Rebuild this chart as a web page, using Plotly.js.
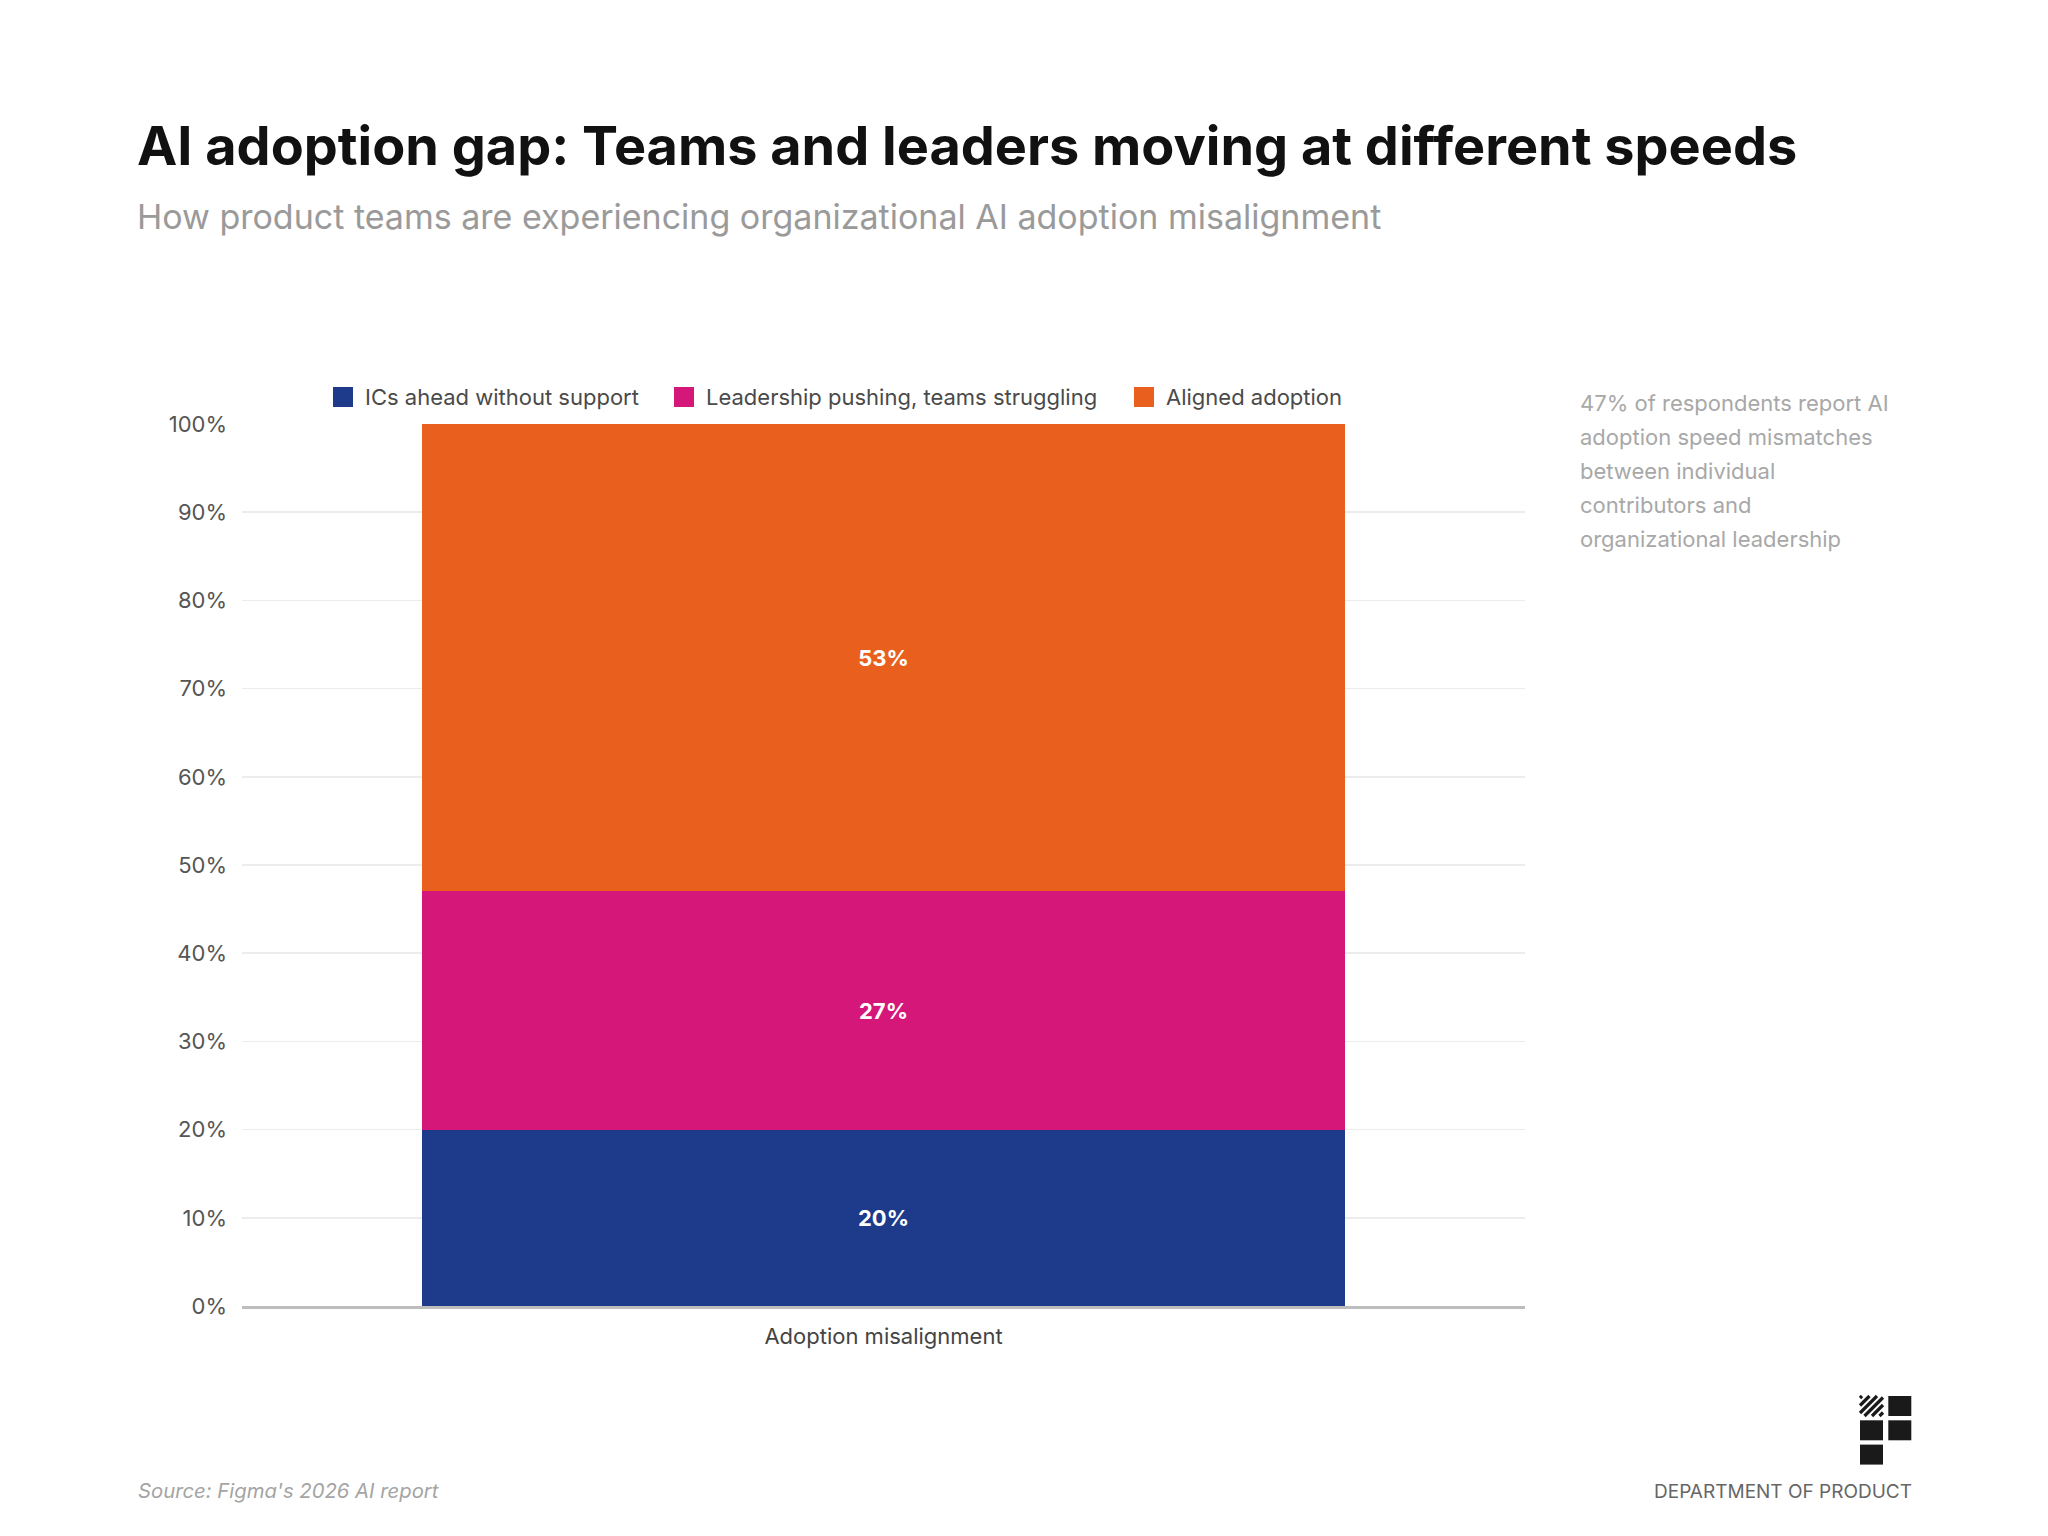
<!DOCTYPE html>
<html>
<head>
<meta charset="utf-8">
<script src="https://cdn.plot.ly/plotly-3.0.1.min.js"></script>
<style>
  html, body { margin: 0; padding: 0; background: #ffffff; }
  #chart { width: 2048px; height: 1536px; }
</style>
</head>
<body>
<div id="chart"></div>
<script>
// ---- Data ----
const categories = ["Adoption misalignment"];
const seriesNames = ["ICs ahead without support", "Leadership pushing, teams struggling", "Aligned adoption"];
const icsAhead = [20];
const leadershipPushing = [27];
const alignedAdoption = [53];
const seriesColors = ["#1e3a8a", "#d6177a", "#e9601e"];
const yTickValues = [0, 10, 20, 30, 40, 50, 60, 70, 80, 90, 100];

// ---- Layout geometry (pixels) ----
const W = 2048, H = 1536;
const M = { l: 242, r: 2048 - 1525, t: 424, b: 1536 - 1306 };
const PW = W - M.l - M.r, PH = H - M.t - M.b;
const px = x => (x - M.l) / PW;
const py = y => (H - M.b - y) / PH;

const FONT = "Inter, 'Noto Sans', sans-serif";

const seriesValues = [icsAhead, leadershipPushing, alignedAdoption];
const traces = seriesValues.map((vals, i) => ({
  type: "bar",
  name: seriesNames[i],
  x: categories,
  y: vals,
  marker: { color: seriesColors[i], line: { width: 0 } },
  text: vals.map(v => v + "%"),
  textposition: "inside",
  insidetextanchor: "middle",
  textangle: 0,
  textfont: { family: FONT, size: 22, color: "#ffffff", weight: 700 },
  hoverinfo: "skip",
  showlegend: false
}));

const annotations = [];
const shapes = [];

// Title / subtitle
annotations.push({
  xref: "paper", yref: "paper", x: px(135), y: py(146),
  xanchor: "left", yanchor: "middle", showarrow: false,
  text: "<b>AI adoption gap: Teams and leaders moving at different speeds</b>",
  font: { family: FONT, size: 54, color: "#111111" }
});
annotations.push({
  xref: "paper", yref: "paper", x: px(135), y: py(216),
  xanchor: "left", yanchor: "middle", showarrow: false,
  text: "How product teams are experiencing organizational AI adoption misalignment",
  font: { family: FONT, size: 34, color: "#9a9a9a" }
});

// Legend (drawn from series names and colours)
const legendX = [333, 674, 1134];
seriesNames.forEach((name, i) => {
  const x0 = legendX[i];
  shapes.push({ type: "rect", xref: "paper", yref: "paper",
    x0: px(x0), x1: px(x0 + 20), y0: py(407), y1: py(387),
    fillcolor: seriesColors[i], line: { width: 0 } });
  annotations.push({
    xref: "paper", yref: "paper", x: px(x0 + 30), y: py(397),
    xanchor: "left", yanchor: "middle", showarrow: false,
    text: name, font: { family: FONT, size: 22, color: "#4a4a4a" }
  });
});

// Side note
const noteLines = [
  "47% of respondents report AI",
  "adoption speed mismatches",
  "between individual",
  "contributors and",
  "organizational leadership"
];
noteLines.forEach((t, i) => annotations.push({
  xref: "paper", yref: "paper", x: px(1578), y: py(403 + i * 34),
  xanchor: "left", yanchor: "middle", showarrow: false,
  text: t, font: { family: FONT, size: 22, color: "#a8a8a8" }
}));

// Footer
annotations.push({
  xref: "paper", yref: "paper", x: px(136), y: py(1490),
  xanchor: "left", yanchor: "middle", showarrow: false,
  text: "<i>Source: Figma's 2026 AI report</i>",
  font: { family: FONT, size: 20.3, color: "#a4a4a4" }
});
annotations.push({
  xref: "paper", yref: "paper", x: px(1914), y: py(1491),
  xanchor: "right", yanchor: "middle", showarrow: false,
  text: "DEPARTMENT OF PRODUCT",
  font: { family: FONT, size: 19, color: "#666666" }
});

// ---- Logo shapes ----
const SW = 23, SH = 20, GX = 5.3, GY = 4.3, LX = 1860, LY = 1396;
const cells = [[0,0,true],[1,0,false],[0,1,false],[1,1,false],[0,2,false]];
cells.forEach(([c, r, hatched]) => {
  const x0 = LX + c * (SW + GX), y0 = LY + r * (SH + GY);
  if (!hatched) {
    shapes.push({ type: "rect", xref: "paper", yref: "paper",
      x0: px(x0), x1: px(x0 + SW), y0: py(y0 + SH), y1: py(y0),
      fillcolor: "#1a1a1a", line: { width: 0 } });
  } else {
    // diagonal "/" stripes clipped to the cell
    const step = 7.5;
    for (let k = 2; k <= SW + SH; k += step) {
      // screen coords: (x - x0) + (y - y0) = k
      const pts = [];
      for (let t = 0; t <= SW; t += 0.25) {
        const yy = k - t;
        if (yy >= 0 && yy <= SH) pts.push([t, yy]);
      }
      if (pts.length >= 2) {
        const a = pts[0], b = pts[pts.length - 1];
        shapes.push({ type: "line", xref: "paper", yref: "paper",
          x0: px(x0 + a[0]), y0: py(y0 + a[1]), x1: px(x0 + b[0]), y1: py(y0 + b[1]),
          line: { color: "#1a1a1a", width: 3.2 } });
      }
    }
  }
});

const layout = {
  width: W, height: H,
  margin: M,
  paper_bgcolor: "#ffffff",
  plot_bgcolor: "#ffffff",
  barmode: "stack",
  bargap: 0.28,
  showlegend: false,
  xaxis: {
    type: "category",
    showgrid: false,
    showline: true,
    linecolor: "#bdbdbd",
    linewidth: 3,
    ticks: "",
    ticklabelstandoff: 9,
    tickfont: { family: FONT, size: 22, color: "#444444" },
    fixedrange: true
  },
  yaxis: {
    range: [0, 100],
    tickvals: yTickValues,
    ticktext: yTickValues.map(v => v + "%"),
    showgrid: true,
    gridcolor: "#ececec",
    gridwidth: 1.5,
    zeroline: false,
    showline: false,
    ticks: "",
    ticklabelstandoff: 14,
    tickfont: { family: FONT, size: 22, color: "#555555" },
    fixedrange: true
  },
  annotations: annotations,
  shapes: shapes,
  font: { family: FONT }
};

Plotly.newPlot("chart", traces, layout, { displayModeBar: false, staticPlot: true });
</script>
</body>
</html>
